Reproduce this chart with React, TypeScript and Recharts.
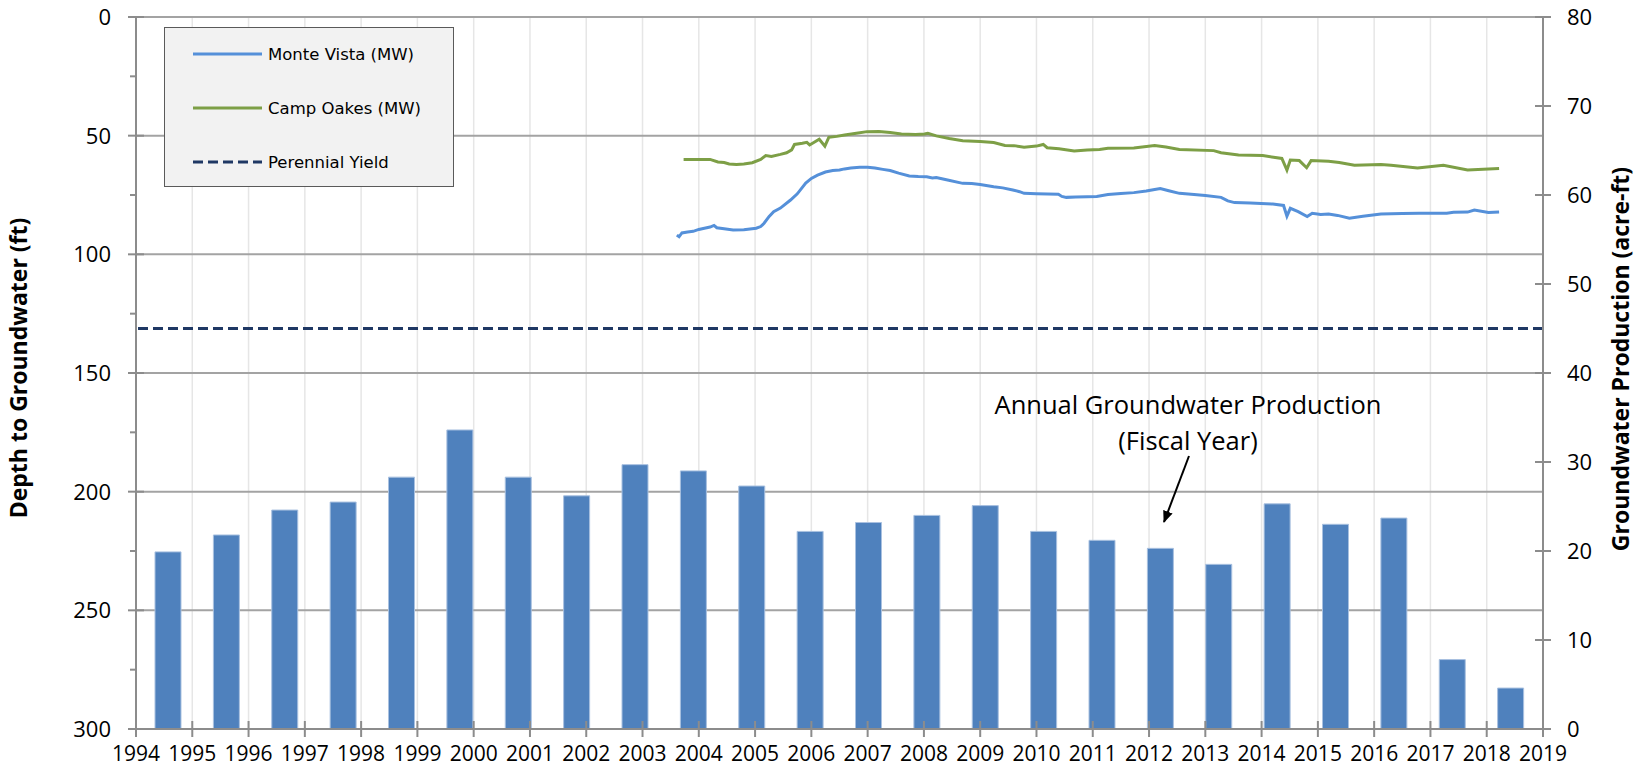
import React from 'react';
import {
  Bar,
  CartesianGrid,
  ComposedChart,
  Legend,
  Line,
  ReferenceLine,
  XAxis,
  YAxis,
} from 'recharts';

// fiscal year production bars (acre-ft, right axis)
const fiscalYears = [
  'FY95', 'FY96', 'FY97', 'FY98', 'FY99', 'FY00', 'FY01', 'FY02', 'FY03', 'FY04', 'FY05', 'FY06',
  'FY07', 'FY08', 'FY09', 'FY10', 'FY11', 'FY12', 'FY13', 'FY14', 'FY15', 'FY16', 'FY17', 'FY18',
];
const production = [
  19.9, 21.8, 24.6, 25.5, 28.3, 33.6, 28.3, 26.2, 29.7, 29.0, 27.3, 22.2,
  23.2, 24.0, 25.1, 22.2, 21.2, 20.3, 18.5, 25.3, 23.0, 23.7, 7.8, 4.6,
];

// Monte Vista monitoring well, depth to water (ft)
const monteVistaDates = [
  2003.61, 2003.65, 2003.7, 2003.8, 2003.9, 2004.0, 2004.1, 2004.2, 2004.27, 2004.32, 2004.45, 2004.61,
  2004.8, 2005.02, 2005.1, 2005.16, 2005.25, 2005.33, 2005.45, 2005.63, 2005.75, 2005.9, 2006.0, 2006.11,
  2006.25, 2006.38, 2006.5, 2006.59, 2006.7, 2006.86, 2007.0, 2007.13, 2007.27, 2007.4, 2007.55, 2007.74,
  2007.9, 2008.05, 2008.15, 2008.22, 2008.4, 2008.69, 2008.85, 2009.0, 2009.24, 2009.4, 2009.58, 2009.7,
  2009.78, 2010.0, 2010.2, 2010.39, 2010.45, 2010.53, 2010.7, 2010.9, 2011.07, 2011.27, 2011.5, 2011.73,
  2011.95, 2012.1, 2012.2, 2012.35, 2012.54, 2012.8, 2013.0, 2013.28, 2013.4, 2013.52, 2013.8, 2014.2,
  2014.39, 2014.45, 2014.51, 2014.65, 2014.81, 2014.9, 2015.05, 2015.19, 2015.35, 2015.56, 2015.8, 2016.12,
  2016.5, 2016.8, 2017.29, 2017.41, 2017.66, 2017.78, 2018.03, 2018.22,
];
const monteVistaDepth = [
  91.9, 92.6, 91.0, 90.6, 90.3, 89.5, 89.0, 88.5, 87.8, 88.8, 89.2, 89.7,
  89.6, 89.0, 88.3, 86.9, 84.0, 82.0, 80.5, 77.1, 74.5, 70.0, 68.0, 66.6,
  65.3, 64.7, 64.5, 64.0, 63.6, 63.3, 63.3, 63.6, 64.2, 64.7, 65.8, 67.0,
  67.2, 67.3, 67.8, 67.6, 68.6, 70.1, 70.2, 70.6, 71.5, 72.0, 72.9, 73.6,
  74.3, 74.5, 74.6, 74.7, 75.6, 76.0, 75.8, 75.7, 75.6, 74.8, 74.4, 74.0,
  73.3, 72.7, 72.3, 73.2, 74.3, 74.8, 75.2, 76.0, 77.5, 78.2, 78.4, 78.8,
  79.4, 83.9, 80.6, 82.0, 84.1, 82.7, 83.2, 83.0, 83.6, 84.8, 84.0, 83.0,
  82.8, 82.7, 82.7, 82.3, 82.2, 81.3, 82.4, 82.2,
];

// Camp Oakes monitoring well, depth to water (ft)
const campOakesDates = [
  2003.73, 2004.2, 2004.34, 2004.45, 2004.54, 2004.67, 2004.8, 2004.95, 2005.1, 2005.19, 2005.29, 2005.45,
  2005.56, 2005.65, 2005.7, 2005.84, 2005.92, 2005.97, 2006.14, 2006.24, 2006.31, 2006.45, 2006.59, 2006.8,
  2006.99, 2007.2, 2007.4, 2007.6, 2007.85, 2008.01, 2008.07, 2008.22, 2008.45, 2008.69, 2009.0, 2009.24,
  2009.44, 2009.6, 2009.78, 2010.0, 2010.12, 2010.19, 2010.4, 2010.67, 2010.9, 2011.12, 2011.27, 2011.73,
  2012.1, 2012.3, 2012.54, 2013.15, 2013.28, 2013.59, 2014.02, 2014.36, 2014.45, 2014.51, 2014.67, 2014.8,
  2014.88, 2015.19, 2015.38, 2015.65, 2016.12, 2016.3, 2016.77, 2017.23, 2017.66, 2018.22,
];
const campOakesDepth = [
  60.0, 60.0, 61.1, 61.3, 61.9, 62.1, 61.9, 61.4, 60.0, 58.4, 58.8, 57.9,
  57.2, 56.0, 53.7, 53.2, 52.8, 53.9, 51.5, 54.4, 50.7, 50.3, 49.7, 49.0,
  48.3, 48.2, 48.7, 49.3, 49.5, 49.3, 49.0, 50.1, 51.2, 52.1, 52.5, 52.9,
  54.1, 54.2, 54.9, 54.4, 53.7, 55.1, 55.5, 56.5, 56.0, 55.8, 55.3, 55.2,
  54.1, 54.8, 55.8, 56.3, 57.2, 58.1, 58.4, 59.6, 64.5, 60.3, 60.5, 63.5,
  60.5, 60.8, 61.3, 62.5, 62.1, 62.5, 63.6, 62.5, 64.5, 63.8,
];

const perennialYield = 45;

const yearTicks = [
  1994, 1995, 1996, 1997, 1998, 1999, 2000, 2001, 2002, 2003, 2004, 2005, 2006,
  2007, 2008, 2009, 2010, 2011, 2012, 2013, 2014, 2015, 2016, 2017, 2018, 2019,
];
const depthTicks = [0, 25, 50, 75, 100, 125, 150, 175, 200, 225, 250, 275, 300];
const depthGrid = [0, 50, 100, 150, 200, 250, 300];
const productionTicks = [0, 10, 20, 30, 40, 50, 60, 70, 80];

const seriesNames = ['Monte Vista (MW)', 'Camp Oakes (MW)', 'Perennial Yield'];

const BLUE = '#5590d9';
const GREEN = '#7d9f46';
const NAVY = '#1f3864';
const AXIS = '#8c8c8c';
const TICK_FONT = '"Open Sans", sans-serif';

const barData = fiscalYears.map((fy, i) => ({ fy, production: production[i] }));
const monteVista = monteVistaDates.map((year, i) => ({ year, depth: monteVistaDepth[i] }));
const campOakes = campOakesDates.map((year, i) => ({ year, depth: campOakesDepth[i] }));

const legendItems = [
  { name: seriesNames[0], color: BLUE, dash: undefined },
  { name: seriesNames[1], color: GREEN, dash: undefined },
  { name: seriesNames[2], color: NAVY, dash: '10 5' },
];

function DepthTick({ x, y, payload }: any) {
  const major = payload.value % 50 === 0;
  return (
    <g>
      <line x1={x - (major ? 8 : 6)} x2={x + (major ? 8 : 0)} y1={y} y2={y} stroke={AXIS} strokeWidth={2} />
      {major && (
        <text x={x - 25} y={y} dy="0.36em" textAnchor="end" fontFamily={TICK_FONT} fontSize={22} fill="#000">
          {payload.value}
        </text>
      )}
    </g>
  );
}

function ProductionTick({ x, y, payload }: any) {
  return (
    <g>
      <line x1={x - 8} x2={x + 8} y1={y} y2={y} stroke={AXIS} strokeWidth={2} />
      <text x={x + 24} y={y} dy="0.36em" textAnchor="start" fontFamily={TICK_FONT} fontSize={22} fill="#000">
        {payload.value}
      </text>
    </g>
  );
}

function YearTick({ x, y, payload }: any) {
  return (
    <g>
      <line x1={x} x2={x} y1={y - 8} y2={y + 8} stroke={AXIS} strokeWidth={2} />
      <text x={x} y={y + 32} textAnchor="middle" fontFamily={TICK_FONT} fontSize={21} fill="#000">
        {payload.value}
      </text>
    </g>
  );
}

function LegendBox() {
  return (
    <div
      style={{
        width: 288,
        height: 158,
        background: '#f2f2f2',
        border: '1px solid #5a5a5a',
        boxSizing: 'content-box',
      }}
    >
      <svg width={288} height={158}>
        {legendItems.map((item, i) => (
          <g key={item.name} transform={`translate(0, ${26 + i * 54})`}>
            <line x1={28} x2={97} y1={0} y2={0} stroke={item.color} strokeWidth={3} strokeDasharray={item.dash} />
            <text x={103} y={0} dy="0.36em" fontFamily='"DejaVu Sans", sans-serif' fontSize={16.5} fill="#000">
              {item.name}
            </text>
          </g>
        ))}
      </svg>
    </div>
  );
}

export default function App() {
  return (
    <div style={{ position: 'absolute', left: 0, top: 0, width: 1644, height: 774, background: '#fff' }}>
      <ComposedChart width={1644} height={774} data={barData} margin={{ top: 17, right: 0, bottom: 0, left: 0 }}>
        <CartesianGrid xAxisId="time" yAxisId="left" horizontal={false} stroke="#e6e6e6" strokeWidth={1.5} />
        <CartesianGrid
          xAxisId="time"
          yAxisId="left"
          vertical={false}
          horizontalValues={depthGrid}
          stroke="#a3a3a3"
          strokeWidth={2}
        />
        <XAxis xAxisId="fy" dataKey="fy" type="category" hide height={0} padding={{ left: 3, right: 3 }} />
        <XAxis
          xAxisId="time"
          dataKey="year"
          type="number"
          domain={[1994, 2019]}
          allowDataOverflow
          ticks={yearTicks}
          interval={0}
          height={45}
          tickSize={0}
          tickMargin={0}
          tickLine={false}
          axisLine={{ stroke: AXIS, strokeWidth: 2 }}
          tick={YearTick}
        />
        <YAxis
          yAxisId="left"
          orientation="left"
          reversed
          domain={[0, 300]}
          ticks={depthTicks}
          interval={0}
          width={136}
          tickSize={0}
          tickMargin={0}
          tickLine={false}
          axisLine={{ stroke: AXIS, strokeWidth: 2 }}
          tick={DepthTick}
        />
        <YAxis
          yAxisId="right"
          orientation="right"
          domain={[0, 80]}
          ticks={productionTicks}
          interval={0}
          width={101}
          tickSize={0}
          tickMargin={0}
          tickLine={false}
          axisLine={{ stroke: AXIS, strokeWidth: 2 }}
          tick={ProductionTick}
        />
        <Bar
          xAxisId="fy"
          yAxisId="right"
          dataKey="production"
          name="Annual Groundwater Production"
          barSize={26}
          fill="#4f81bd"
          stroke="#a9c1e0"
          strokeWidth={1}
          isAnimationActive={false}
        />
        <ReferenceLine
          xAxisId="time"
          yAxisId="right"
          y={perennialYield}
          stroke={NAVY}
          strokeWidth={3}
          strokeDasharray="10 5"
        />
        <Line
          xAxisId="time"
          yAxisId="left"
          data={monteVista}
          dataKey="depth"
          name={seriesNames[0]}
          type="linear"
          stroke={BLUE}
          strokeWidth={3}
          dot={false}
          isAnimationActive={false}
        />
        <Line
          xAxisId="time"
          yAxisId="left"
          data={campOakes}
          dataKey="depth"
          name={seriesNames[1]}
          type="linear"
          stroke={GREEN}
          strokeWidth={3}
          dot={false}
          isAnimationActive={false}
        />
        <Legend
          layout="vertical"
          align="center"
          verticalAlign="middle"
          content={() => <LegendBox />}
          wrapperStyle={{ left: 164, top: 27, width: 290, height: 160 }}
        />
      </ComposedChart>

      <svg
        width={1644}
        height={774}
        style={{ position: 'absolute', left: 0, top: 0, pointerEvents: 'none' }}
      >
        <defs>
          <marker id="arrowHead" markerWidth="12" markerHeight="10" refX="11" refY="5" orient="auto" markerUnits="userSpaceOnUse">
            <path d="M0,0 L12,5 L0,10 Z" fill="#000" />
          </marker>
        </defs>
        <text
          transform="translate(27, 368) rotate(-90)"
          textAnchor="middle"
          fontFamily={TICK_FONT}
          fontWeight="bold"
          fontSize={23}
          fill="#000"
        >
          Depth to Groundwater (ft)
        </text>
        <text
          transform="translate(1629, 359) rotate(-90)"
          textAnchor="middle"
          fontFamily={TICK_FONT}
          fontWeight="bold"
          fontSize={23}
          fill="#000"
        >
          Groundwater Production (acre-ft)
        </text>
        <text x={1188} y={414} textAnchor="middle" fontFamily={TICK_FONT} fontSize={25.5} fill="#000">
          Annual Groundwater Production
        </text>
        <text x={1188} y={450} textAnchor="middle" fontFamily={TICK_FONT} fontSize={25.5} fill="#000">
          (Fiscal Year)
        </text>
        <line x1={1189} y1={456} x2={1164} y2={522} stroke="#000" strokeWidth={2} markerEnd="url(#arrowHead)" />
      </svg>
    </div>
  );
}
